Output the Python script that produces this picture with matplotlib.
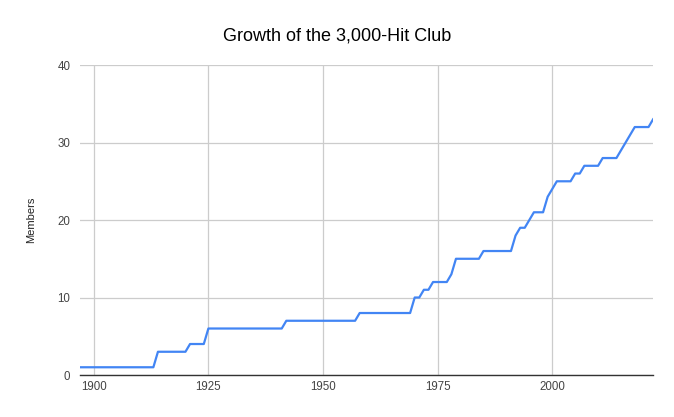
import numpy as np
import matplotlib
matplotlib.use('Agg')
import matplotlib.pyplot as plt

plt.rcParams['font.family'] = ['Liberation Sans', 'DejaVu Sans']

# year each member reached 3,000 hits
milestone_years = [1897, 1914, 1914, 1921, 1925, 1925, 1942, 1958, 1970, 1970,
                   1972, 1974, 1978, 1979, 1979, 1985, 1992, 1992, 1993, 1995,
                   1996, 1999, 1999, 2000, 2001, 2005, 2007, 2011, 2015, 2016,
                   2017, 2018, 2022]
first_year = 1897
last_year = 2022
x_ticks = [1900, 1925, 1950, 1975, 2000]
y_ticks = [0, 10, 20, 30, 40]

years = np.arange(first_year, last_year + 1)
members = np.searchsorted(np.array(milestone_years), years, side='right')

fig = plt.figure(figsize=(6.74, 4.17), dpi=100)
ax = fig.add_axes([0.1187, 0.1007, 0.969 - 0.1187, 0.844 - 0.1007])

ax.plot(years, members, color='#4285F4', linewidth=1.6)

ax.set_xlim(first_year, last_year)
ax.set_ylim(0, 40)
ax.set_xticks(x_ticks)
ax.set_yticks(y_ticks)
ax.grid(True, color='#cccccc', linewidth=0.9)
ax.set_axisbelow(True)
ax.tick_params(length=0, labelsize=8.3, colors='#444444')
ax.tick_params(axis='x', pad=4)
ax.tick_params(axis='y', pad=7)
for s in ['top', 'right', 'left']:
    ax.spines[s].set_visible(False)
ax.spines['bottom'].set_color('#333333')
ax.spines['bottom'].set_linewidth(1)

ax.set_ylabel('Members', fontsize=8, color='#222222', labelpad=15)
fig.suptitle('Growth of the 3,000-Hit Club', fontsize=13, color='#000000', y=0.935, x=0.5)

fig.savefig('out.png', dpi=100)
